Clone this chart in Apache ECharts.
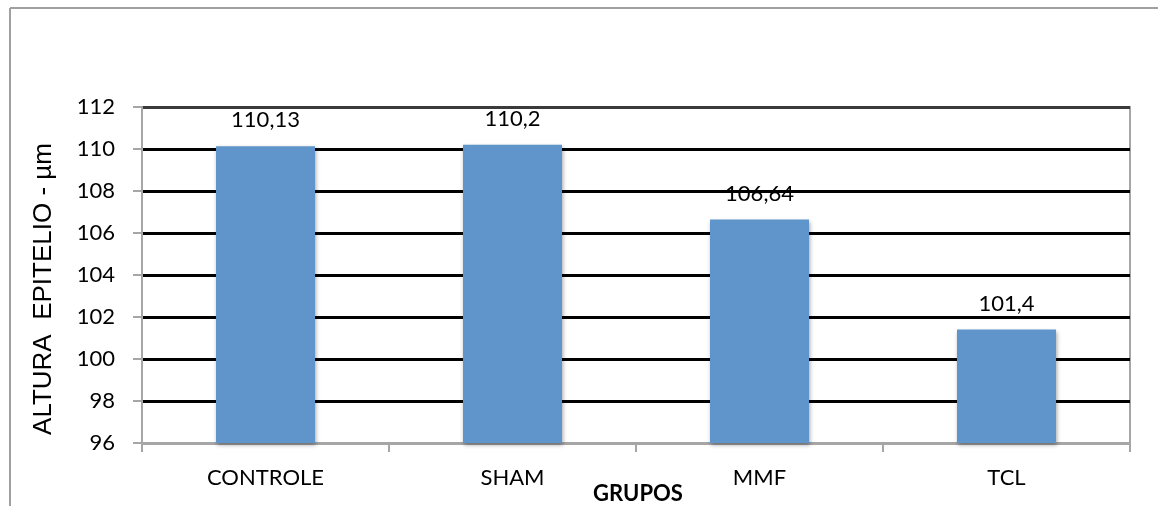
<!DOCTYPE html>
<html>
<head>
<meta charset="utf-8">
<script src="https://cdn.jsdelivr.net/npm/echarts@6/dist/echarts.min.js"></script>
<style>
  html, body { margin: 0; padding: 0; background: #fff; }
  #chart { width: 1158px; height: 506px; }
</style>
</head>
<body>
<div id="chart"></div>
<script>
// Groups and mean epithelium height (µm)
const categories = ['CONTROLE', 'SHAM', 'MMF', 'TCL'];
const alturaValues = [110.13, 110.2, 106.64, 101.4];
const yTicks = { min: 96, max: 112, interval: 2 };

const FONT = 'Lato, "Liberation Sans", sans-serif';
const fmtComma = v => String(v).replace('.', ',');

const chart = echarts.init(document.getElementById('chart'), null, { renderer: 'canvas' });

chart.setOption({
  animation: false,
  backgroundColor: '#ffffff',
  grid: {
    left: 142, right: 28, top: 107, bottom: 63,
    outerBoundsMode: 'none',
    containLabel: false,
    show: true, borderColor: '#a6a6a6', borderWidth: 2
  },
  graphic: [
    // outer chart frame (top and left edges)
    { type: 'line', shape: { x1: 10, y1: 8, x2: 1158, y2: 8 }, style: { stroke: '#a0a0a0', lineWidth: 2 } },
    { type: 'line', shape: { x1: 10, y1: 8, x2: 10, y2: 506 }, style: { stroke: '#a0a0a0', lineWidth: 2 } },
    // vertical axis title
    {
      type: 'text', x: 44, y: 289, rotation: Math.PI / 2,
      style: {
        text: 'ALTURA  EPITELIO - µm', fill: '#000', font: '26px "Liberation Sans", Arial, sans-serif',
        textAlign: 'center', textVerticalAlign: 'middle'
      }
    },
    // horizontal axis title
    {
      type: 'text', x: 638, y: 494,
      style: {
        text: 'GRUPOS', fill: '#000', font: 'bold 22px ' + FONT,
        textAlign: 'center', textVerticalAlign: 'middle'
      }
    }
  ],
  xAxis: {
    type: 'category',
    data: categories,
    axisLine: { lineStyle: { color: '#a6a6a6', width: 2 } },
    axisTick: { show: true, alignWithLabel: false, length: 9, lineStyle: { color: '#a6a6a6', width: 2 } },
    axisLabel: { fontFamily: FONT, fontSize: 22, color: '#000', margin: 24 }
  },
  yAxis: {
    type: 'value',
    min: yTicks.min, max: yTicks.max, interval: yTicks.interval,
    axisLine: { show: true, lineStyle: { color: '#a6a6a6', width: 2 } },
    axisTick: { show: true, length: 9, lineStyle: { color: '#a6a6a6', width: 2 } },
    axisLabel: { fontFamily: FONT, fontSize: 22, color: '#000', margin: 27 },
    splitLine: {
      show: true,
      lineStyle: {
        color: ['#a6a6a6', '#000', '#000', '#000', '#000', '#000', '#000', '#000', '#3a3a3a'],
        width: 3
      }
    }
  },
  series: [{
    type: 'bar',
    data: alturaValues,
    barWidth: 99,
    itemStyle: {
      color: '#5f95ca',
      shadowColor: 'rgba(0,0,0,0.35)', shadowBlur: 4, shadowOffsetX: 1, shadowOffsetY: 2
    },
    label: {
      show: true, position: 'top', distance: 15,
      fontFamily: FONT, fontSize: 22, color: '#000',
      formatter: p => fmtComma(p.value)
    },
    z: 3
  }]
});
</script>
</body>
</html>
